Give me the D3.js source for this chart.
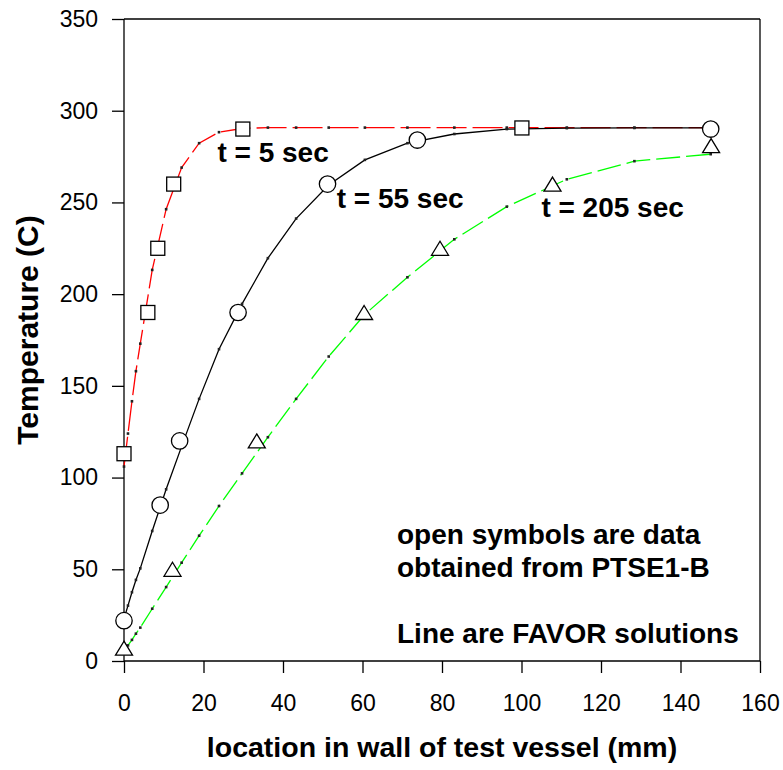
<!DOCTYPE html>
<html>
<head>
<meta charset="utf-8">
<script src="https://cdn.jsdelivr.net/npm/d3@7"></script>
<style>
  html, body { margin: 0; padding: 0; background: #fff; }
  svg { display: block; }
  text { font-family: Arial, "Liberation Sans", Helvetica, sans-serif; }
</style>
</head>
<body>
<svg id="chart" width="783" height="770"></svg>
<script>
// FAVOR mesh node locations through the wall (mm)
const nodeX = [0, 1.0, 2.0, 3.0, 4.1, 7.1, 10.6, 14.5, 18.9, 23.9, 29.7, 36.2, 43.3, 51.5, 60.6, 71.3, 83.1, 96.3, 111.4, 128.4, 147.6];

// FAVOR temperature solutions (C) at each node
const favor5   = [106, 124, 141.6, 158, 173, 213.2, 246.3, 269, 282.3, 288.3, 290.3, 290.8, 290.8, 290.8, 290.8, 290.8, 290.8, 290.8, 290.8, 290.8, 290.8];
const favor55  = [23, 30.2, 37.5, 44.2, 50.5, 70.9, 93.6, 117, 142.9, 170, 194.7, 219.6, 241.2, 259.5, 273.2, 282.3, 287.3, 290, 290.5, 290.6, 290.6];
const favor205 = [6, 8.5, 11.5, 14.9, 18.2, 28.5, 40.3, 53.6, 68.3, 84.5, 102.3, 122, 142.9, 166, 189, 209.2, 229.9, 247.7, 262.6, 272.5, 276.3];

// PTSE1-B measured data (open symbols)
const ptse5X   = [0, 6.0, 8.5, 12.5, 29.9, 100.1];
const ptse5Y   = [113, 190, 225, 260, 290, 290.6];
const ptse55X  = [0, 9.1, 14.0, 28.7, 51.2, 73.8, 147.6];
const ptse55Y  = [22, 85, 120, 190, 260, 284, 290];
const ptse205X = [0, 12.2, 33.4, 60.4, 79.5, 107.8, 147.7];
const ptse205Y = [7, 50, 120, 190, 225, 260, 281];

const xTicks = [0, 20, 40, 60, 80, 100, 120, 140, 160];
const yTicks = [0, 50, 100, 150, 200, 250, 300, 350];

const curveLabels = ["t = 5 sec", "t = 55 sec", "t = 205 sec"];
const curveLabelPos = [[23.5, 272], [53.5, 247], [105, 242]];
const noteLines = ["open symbols are data", "obtained from PTSE1-B", "", "Line are FAVOR solutions"];

const margin = { top: 19, right: 23, bottom: 109, left: 124 };
const W = 783, H = 770;
const svg = d3.select("#chart");
const x = d3.scaleLinear().domain([0, 160]).range([margin.left, W - margin.right]);
const y = d3.scaleLinear().domain([0, 350]).range([H - margin.bottom, margin.top]);

const g = svg.append("g");

// frame: top and right borders
g.append("line").attr("x1", x(0)).attr("x2", x(160)).attr("y1", y(350)).attr("y2", y(350))
  .attr("stroke", "#000").attr("stroke-width", 1.3);
g.append("line").attr("x1", x(160)).attr("x2", x(160)).attr("y1", y(0)).attr("y2", y(350))
  .attr("stroke", "#000").attr("stroke-width", 1.3);

// axes
const xAxis = g.append("g").attr("transform", `translate(0,${y(0)})`)
  .call(d3.axisBottom(x).tickValues(xTicks).tickSize(12).tickPadding(22).tickFormat(d3.format("d")));
const yAxis = g.append("g").attr("transform", `translate(${x(0)},0)`)
  .call(d3.axisLeft(y).tickValues(yTicks).tickSize(12).tickPadding(14).tickFormat(d3.format("d")));
[xAxis, yAxis].forEach(a => {
  a.select(".domain").attr("stroke", "#000").attr("stroke-width", 1.3);
  a.selectAll(".tick line").attr("stroke", "#000").attr("stroke-width", 1.3);
  a.selectAll(".tick text").attr("font-size", 23).attr("fill", "#000")
    .attr("font-family", "Arial, 'Liberation Sans', sans-serif");
});
xAxis.select(".domain").attr("d", `M${x(0)},0H${x(160)}`);
yAxis.select(".domain").attr("d", `M0,${y(0)}V${y(350)}`);

// axis titles
svg.append("text").attr("x", (x(0) + x(160)) / 2).attr("y", 757)
  .attr("text-anchor", "middle").attr("font-size", 28.5).attr("font-weight", "bold")
  .text("location in wall of test vessel (mm)");
svg.append("text").attr("transform", `translate(38,${(y(0) + y(350)) / 2 - 10}) rotate(-90)`)
  .attr("text-anchor", "middle").attr("font-size", 30).attr("font-weight", "bold")
  .text("Temperature (C)");

// FAVOR solution curves
const curves = [
  { vals: favor5,   color: "#ff0000", dash: "30,6" },
  { vals: favor55,  color: "#000000", dash: null },
  { vals: favor205, color: "#00ff00", dash: "24,6" }
];
const line = d3.line().x(d => x(d[0])).y(d => y(d[1]));
curves.forEach(c => {
  const pts = nodeX.map((nx, i) => [nx, c.vals[i]]);
  g.append("path").datum(pts).attr("d", line)
    .attr("fill", "none").attr("stroke", c.color).attr("stroke-width", 1.3)
    .attr("stroke-dasharray", c.dash);
  g.selectAll(null).data(pts).enter().append("rect")
    .attr("x", d => x(d[0]) - 1.3).attr("y", d => y(d[1]) - 1.3)
    .attr("width", 2.6).attr("height", 2.6).attr("fill", "#222");
});

// measured data symbols
const sq = ptse5X.map((v, i) => [v, ptse5Y[i]]);
g.selectAll(null).data(sq).enter().append("rect")
  .attr("x", d => x(d[0]) - 7).attr("y", d => y(d[1]) - 7)
  .attr("width", 14).attr("height", 14)
  .attr("fill", "#fff").attr("stroke", "#000").attr("stroke-width", 1.3);

const ci = ptse55X.map((v, i) => [v, ptse55Y[i]]);
g.selectAll(null).data(ci).enter().append("circle")
  .attr("cx", d => x(d[0])).attr("cy", d => y(d[1])).attr("r", 8.2)
  .attr("fill", "#fff").attr("stroke", "#000").attr("stroke-width", 1.3);

const tr = ptse205X.map((v, i) => [v, ptse205Y[i]]);
g.selectAll(null).data(tr).enter().append("path")
  .attr("d", d => {
    const cx = x(d[0]), cy = y(d[1]);
    return `M${cx},${cy - 7}L${cx + 8.5},${cy + 7}L${cx - 8.5},${cy + 7}Z`;
  })
  .attr("fill", "#fff").attr("stroke", "#000").attr("stroke-width", 1.3);

// curve labels
curveLabels.forEach((t, i) => {
  svg.append("text").attr("x", x(curveLabelPos[i][0])).attr("y", y(curveLabelPos[i][1]))
    .attr("font-size", 28).attr("font-weight", "bold").text(t);
});

// note block
const note = svg.append("text").attr("x", 397).attr("y", 544)
  .attr("font-size", 28).attr("font-weight", "bold");
noteLines.forEach((t, i) => {
  note.append("tspan").attr("x", 397).attr("dy", i === 0 ? 0 : 33).text(t || "\u00a0");
});
</script>
</body>
</html>
